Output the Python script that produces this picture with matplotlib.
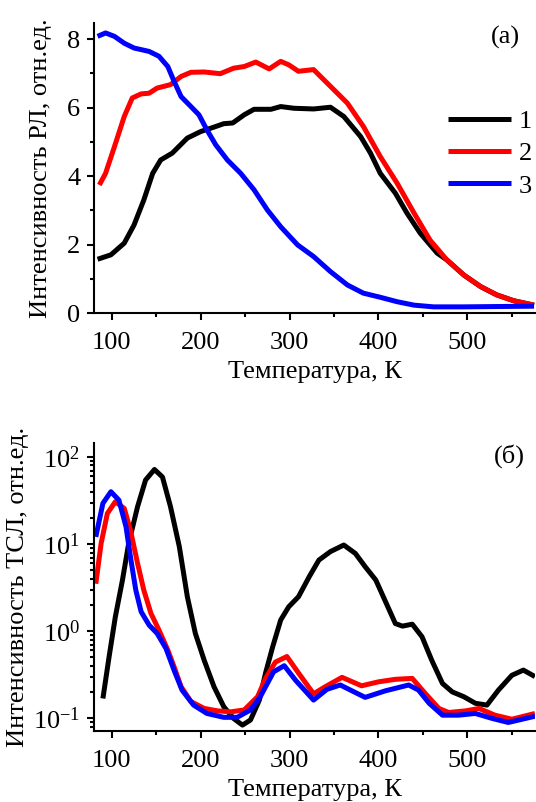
import numpy as np
import matplotlib
matplotlib.use('Agg')
import matplotlib.pyplot as plt
import matplotlib.ticker as mticker

plt.rcParams['font.family'] = ['Liberation Serif', 'DejaVu Serif']
plt.rcParams['mathtext.fontset'] = 'custom'
plt.rcParams['mathtext.rm'] = 'Liberation Serif'

# (a) RL intensity vs temperature
t_rl_1 = [84, 99, 114, 125, 136, 146, 155, 168, 185, 200, 215, 226, 236, 249, 260, 279, 290, 305, 327,
          346, 361, 380, 391, 402, 419, 432, 447, 466, 477, 496, 515, 533, 552, 575]
rl_1 = [1.57, 1.70, 2.04, 2.57, 3.30, 4.08, 4.47, 4.67, 5.11, 5.30, 5.43, 5.53, 5.55, 5.79, 5.95, 5.95, 6.03,
        5.98, 5.96, 6.01, 5.74, 5.15, 4.67, 4.08, 3.50, 2.92, 2.33, 1.75, 1.55, 1.11, 0.77, 0.53, 0.36, 0.23]
t_rl_2 = [86, 93, 103, 114, 123, 133, 142, 151, 166, 178, 189, 204, 222, 237, 249, 262, 277, 290, 299,
          310, 327, 346, 365, 383, 402, 421, 440, 458, 477, 496, 515, 533, 552, 575]
rl_2 = [3.74, 4.08, 4.86, 5.74, 6.28, 6.40, 6.42, 6.57, 6.67, 6.91, 7.03, 7.04, 6.99, 7.15, 7.20, 7.33, 7.13,
        7.35, 7.25, 7.06, 7.11, 6.62, 6.13, 5.45, 4.57, 3.79, 2.92, 2.13, 1.55, 1.11, 0.77, 0.53, 0.36, 0.23]
t_rl_3 = [84, 93, 103, 114, 125, 142, 153, 163, 170, 178, 189, 198, 207, 217, 230, 245, 260, 275, 290,
          309, 327, 346, 365, 383, 402, 421, 440, 462, 496, 575]
rl_3 = [8.08, 8.18, 8.08, 7.88, 7.74, 7.64, 7.50, 7.20, 6.77, 6.32, 6.03, 5.79, 5.35, 4.91, 4.47, 4.08, 3.60,
        3.01, 2.52, 1.99, 1.65, 1.21, 0.82, 0.58, 0.46, 0.33, 0.23, 0.18, 0.18, 0.20]

# (б) TSL intensity vs temperature
t_tsl_1 = [90, 97, 104, 112, 119, 129, 138, 148, 157, 166, 176, 185, 194, 204, 215, 226, 237, 247, 256,
           266, 273, 281, 290, 299, 310, 322, 333, 346, 361, 374, 385, 397, 408, 419, 427, 438, 449,
           460, 472, 483, 496, 509, 522, 535, 550, 563, 576]
tsl_1 = [0.168, 0.51, 1.46, 3.86, 10.2, 26.9, 54.5, 72, 59, 27, 9.3, 2.48, 0.94, 0.46, 0.229, 0.135, 0.099,
         0.083, 0.095, 0.161, 0.33, 0.66, 1.34, 1.9, 2.48, 4.2, 6.55, 8.2, 9.75, 7.8, 5.5, 3.86, 2.17, 1.22,
         1.14, 1.2, 0.86, 0.46, 0.25, 0.2, 0.176, 0.148, 0.141, 0.21, 0.31, 0.356, 0.3]
t_tsl_2 = [82, 88, 95, 104, 114, 121, 129, 136, 144, 153, 163, 170, 178, 189, 204, 219, 234, 249, 264,
           273, 284, 297, 310, 327, 340, 359, 381, 400, 419, 438, 453, 468, 479, 498, 513, 531, 550, 576]
tsl_2 = [3.5, 10.2, 22.5, 30.7, 25.7, 14.4, 6.0, 2.96, 1.6, 1.03, 0.605, 0.39, 0.229, 0.155, 0.129, 0.121,
         0.118, 0.124, 0.176, 0.286, 0.44, 0.51, 0.33, 0.19, 0.229, 0.294, 0.235, 0.261, 0.279, 0.286, 0.19,
         0.129, 0.116, 0.121, 0.129, 0.108, 0.097, 0.113]
t_tsl_3 = [82, 90, 99, 108, 116, 121, 127, 133, 142, 151, 161, 170, 179, 192, 207, 226, 241, 256, 267,
           273, 282, 294, 307, 327, 342, 357, 385, 408, 434, 445, 457, 472, 490, 509, 528, 546, 576]
tsl_3 = [12.1, 29.4, 40, 32, 15.8, 7.1, 2.96, 1.67, 1.17, 0.94, 0.63, 0.356, 0.21, 0.141, 0.113, 0.102,
         0.102, 0.124, 0.176, 0.229, 0.34, 0.40, 0.27, 0.161, 0.214, 0.24, 0.173, 0.206, 0.24, 0.21, 0.148,
         0.108, 0.108, 0.113, 0.099, 0.089, 0.105]

labels = ['1', '2', '3']
colors = ['black', '#ff0000', '#0000ff']

fs = 19
lw = 3.6

fig = plt.figure(figsize=(5.36, 8.02), dpi=100)
ax1 = fig.add_axes([0.1754, 0.6097, 0.8226, 0.3616])
ax2 = fig.add_axes([0.1754, 0.0885, 0.8226, 0.3591])

for t, v, c, l in zip([t_rl_1, t_rl_2, t_rl_3], [rl_1, rl_2, rl_3], colors, labels):
    ax1.plot(t, v, color=c, lw=lw, label=l, solid_capstyle='butt', solid_joinstyle='round')
for t, v, c in zip([t_tsl_1, t_tsl_2, t_tsl_3], [tsl_1, tsl_2, tsl_3], colors):
    ax2.plot(t, v, color=c, lw=lw, solid_capstyle='butt', solid_joinstyle='round')

for ax in (ax1, ax2):
    ax.set_xlim(80, 576)
    ax.spines['top'].set_visible(False)
    ax.spines['right'].set_visible(False)
    ax.spines['left'].set_linewidth(1.5)
    ax.spines['bottom'].set_linewidth(1.5)
    ax.xaxis.set_major_locator(mticker.MultipleLocator(100))
    ax.xaxis.set_minor_locator(mticker.MultipleLocator(50))
    ax.tick_params(which='major', direction='out', length=5, width=1.5, labelsize=fs)
    ax.tick_params(which='minor', direction='out', length=3, width=1.5)
    ax.tick_params(axis='x', which='major', pad=9)
    ax.tick_params(axis='y', which='major', pad=5)
    ax.set_xlabel('Температура, К', fontsize=fs, labelpad=5)

ax1.set_ylim(0, 8.47)
ax1.yaxis.set_major_locator(mticker.MultipleLocator(2))
ax1.yaxis.set_minor_locator(mticker.MultipleLocator(1))
ax1.set_ylabel('Интенсивность РЛ, отн.ед.', fontsize=fs, labelpad=11)
ax1.text(0.966, 0.99, '(a)', transform=ax1.transAxes, fontsize=fs, ha='right', va='top')
ax1.legend(loc='upper right', bbox_to_anchor=(1.0, 0.71), frameon=False, fontsize=fs,
           handlelength=2.4, handletextpad=0.3, borderaxespad=0.0, borderpad=0.1, labelspacing=0.33)

ax2.set_yscale('log')
ax2.set_ylim(0.071, 145)
ax2.yaxis.set_major_locator(mticker.LogLocator(base=10, numticks=10))
ax2.yaxis.set_minor_locator(mticker.LogLocator(base=10, subs=np.arange(2, 10), numticks=10))
ax2.yaxis.set_minor_formatter(mticker.NullFormatter())
ax2.set_ylabel('Интенсивность ТСЛ, отн.ед.', fontsize=fs, labelpad=3)
ax2.text(0.977, 0.995, '(б)', transform=ax2.transAxes, fontsize=fs, ha='right', va='top')

fig.savefig('out.png', dpi=100)
